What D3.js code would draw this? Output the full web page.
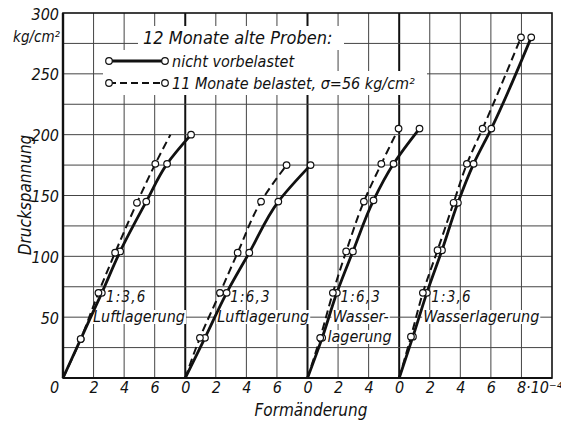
<!DOCTYPE html>
<html>
<head>
<meta charset="utf-8">
<script src="https://cdn.jsdelivr.net/npm/d3@7"></script>
<style>
  html, body { margin: 0; padding: 0; background: #fff; }
  svg { display: block; }
  text { font-family: "Liberation Sans Narrow", "DejaVu Sans Condensed", "Liberation Sans", sans-serif; font-style: italic; fill: #111; }
</style>
</head>
<body>
<script>
// Strain axis runs continuously over four sub-diagrams; each one restarts at 0.
const groupOffsets = [0, 8, 16, 22];

// Strain ticks (absolute position on the shared axis) and the printed labels
const xTickPositions = [0, 2, 4, 6, 8, 10, 12, 14, 16, 18, 20, 22, 24, 26, 28, 30];
const xTickLabels = ["0", "2", "4", "6", "0", "2", "4", "6", "0", "2", "4", "0", "2", "4", "6", "8·10⁻⁴"];
const yTickValues = [50, 100, 150, 200, 250, 300];

// Mixture / storage of each sub-diagram
const groupRatio = ["1:3,6", "1:6,3", "1:6,3", "1:3,6"];
const groupStorage = [["Luftlagerung"], ["Luftlagerung"], ["Wasser-", "lagerung"], ["Wasserlagerung"]];

// nicht vorbelastet (solid): strain [10⁻⁴] and stress [kg/cm²]
const solidStrain = [
  [0, 1.16, 2.54, 3.74, 5.45, 6.81, 8.38],
  [0, 1.29, 2.71, 4.19, 6.09, 8.20],
  [0, 0.96, 1.92, 2.97, 4.32, 5.63, 7.33],
  [0, 0.90, 1.81, 2.80, 3.84, 4.87, 6.03, 8.64]
];
const solidStress = [
  [0, 32, 70, 104, 145, 176, 200],
  [0, 33, 70, 103, 145, 175],
  [0, 33, 70, 104, 146, 176, 205],
  [0, 34, 70, 105, 144, 176, 205, 280]
];

// 11 Monate belastet (dashed)
const dashedStrain = [
  [0, 1.16, 2.32, 3.41, 4.84, 6.04, 7.03],
  [0, 0.96, 2.27, 3.43, 4.96, 6.63],
  [0, 0.83, 1.66, 2.53, 3.69, 4.83, 5.96],
  [0, 0.77, 1.55, 2.51, 3.56, 4.43, 5.46, 7.97]
];
const dashedStress = [
  [0, 32, 70, 103, 144, 176, 200],
  [0, 33, 70, 103, 145, 175],
  [0, 33, 70, 104, 145, 176, 205],
  [0, 34, 70, 105, 144, 176, 205, 280]
];
// the first dashed curve runs on past its last measured point
const dashedOpenEnd = [true, false, false, false];

const W = 561, H = 421;
const svg = d3.select("body").append("svg").attr("width", W).attr("height", H);

const x = d3.scaleLinear().domain([0, 32]).range([63, 552]);
const y = d3.scaleLinear().domain([0, 300]).range([378, 13]);

const ink = "#111";

// grid
const grid = svg.append("g");
grid.selectAll("line.v").data(d3.range(2, 32, 2)).join("line")
  .attr("x1", d => x(d)).attr("x2", d => x(d))
  .attr("y1", y(0)).attr("y2", y(300))
  .attr("stroke", d => groupOffsets.includes(d) ? ink : "#444")
  .attr("stroke-width", d => groupOffsets.includes(d) ? 2 : 1);
grid.selectAll("line.h").data(d3.range(25, 300, 25)).join("line")
  .attr("x1", x(0)).attr("x2", x(32))
  .attr("y1", d => y(d)).attr("y2", d => y(d))
  .attr("stroke", "#444").attr("stroke-width", 1);

// white patches behind legend rows
const mask = svg.append("g").attr("fill", "#fff");
mask.append("rect").attr("x", 138).attr("y", 26).attr("width", 206).attr("height", 24);
mask.append("rect").attr("x", 103).attr("y", 50).attr("width", 210).attr("height", 21);
mask.append("rect").attr("x", 103).attr("y", 71).attr("width", 324).attr("height", 24);

// frame
svg.append("rect").attr("x", x(0)).attr("y", y(300))
  .attr("width", x(32) - x(0)).attr("height", y(0) - y(300))
  .attr("fill", "none").attr("stroke", ink).attr("stroke-width", 1.6);
svg.append("line").attr("x1", x(0)).attr("x2", x(0)).attr("y1", y(0)).attr("y2", y(300))
  .attr("stroke", ink).attr("stroke-width", 2.4);
svg.append("line").attr("x1", x(0)).attr("x2", x(32)).attr("y1", y(0)).attr("y2", y(0))
  .attr("stroke", ink).attr("stroke-width", 2.2);

// axes
const xAxis = d3.axisBottom(x).tickValues(xTickPositions)
  .tickFormat((d, i) => xTickLabels[i]).tickSize(0).tickPadding(3);
const gx = svg.append("g").attr("transform", `translate(0,${y(0)})`).call(xAxis);
gx.select(".domain").remove();
gx.selectAll("text").attr("font-size", 16).attr("fill", ink)
  .attr("font-family", "'Liberation Sans Narrow', 'DejaVu Sans Condensed', sans-serif")
  .style("font-style", "italic")
  .attr("dy", "0.72em");
gx.selectAll(".tick").filter(d => d === 0).select("text").attr("dx", -9);
gx.selectAll(".tick").filter(d => d === 30).select("text")
  .attr("text-anchor", "start").attr("dx", -5);

const yAxis = d3.axisLeft(y).tickValues(yTickValues).tickSize(0).tickPadding(4);
const gy = svg.append("g").attr("transform", `translate(${x(0)},0)`).call(yAxis);
gy.select(".domain").remove();
gy.selectAll("text").attr("font-size", 16).attr("fill", ink)
  .attr("font-family", "'Liberation Sans Narrow', 'DejaVu Sans Condensed', sans-serif")
  .style("font-style", "italic")
  .attr("dy", "0.38em");

svg.append("text").attr("x", 60).attr("y", 42).attr("text-anchor", "end")
  .attr("font-size", 15).text("kg/cm²");
svg.append("text").attr("transform", "translate(31,195) rotate(-90)")
  .attr("text-anchor", "middle").attr("font-size", 17).text("Druckspannung");
svg.append("text").attr("x", 311).attr("y", 416).attr("text-anchor", "middle")
  .attr("font-size", 17).text("Formänderung");

// group annotations with white background
const notes = svg.append("g");
groupOffsets.forEach((off, i) => {
  const gxp = x(off);
  const lines = [groupRatio[i]].concat(groupStorage[i]);
  const dxs = [[43, 30], [45, 32], [33, 25, 20], [32, 24]][i];
  const ys = [302, 322, 342];
  lines.forEach((t, k) => {
    const txt = notes.append("text").attr("x", gxp + dxs[k]).attr("y", ys[k])
      .attr("font-size", k === 0 ? 15 : 16)
      .attr("letter-spacing", k === 0 ? 1.2 : 0)
      .text(t);
    if (k > 0) {
      const b = txt.node().getBBox();
      notes.insert("rect", "text").attr("x", b.x - 1).attr("y", b.y + 3)
        .attr("width", b.width + 2).attr("height", b.height - 5).attr("fill", "#fff");
    }
  });
});
notes.selectAll("text").raise();

// curves
const line = d3.line().x(d => x(d[0])).y(d => y(d[1])).curve(d3.curveMonotoneY);
const curves = svg.append("g");
const marks = svg.append("g");

function drawSeries(strain, stress, dashed, openEnd) {
  strain.forEach((xs, i) => {
    const pts = xs.map((v, k) => [v + groupOffsets[i], stress[i][k]]);
    curves.append("path").attr("d", line(pts)).attr("fill", "none")
      .attr("stroke", ink).attr("stroke-width", dashed ? 2 : 2.8)
      .attr("stroke-dasharray", dashed ? "8,4.5" : null)
      .attr("stroke-linecap", "butt");
    const shown = pts.slice(1, openEnd && openEnd[i] ? pts.length - 1 : pts.length);
    marks.selectAll(null).data(shown).join("circle")
      .attr("cx", d => x(d[0])).attr("cy", d => y(d[1])).attr("r", 3.3)
      .attr("fill", "#fff").attr("stroke", ink).attr("stroke-width", 1.2);
  });
}
drawSeries(solidStrain, solidStress, false, null);
drawSeries(dashedStrain, dashedStress, true, dashedOpenEnd);

// legend
const leg = svg.append("g");
leg.append("text").attr("x", 143).attr("y", 44).attr("font-size", 18).text("12 Monate alte Proben:");
[[61, false, "nicht vorbelastet"], [83, true, "11 Monate belastet, σ=56 kg/cm²"]].forEach(([ly, dashed, label]) => {
  leg.append("line").attr("x1", 109).attr("x2", 165).attr("y1", ly).attr("y2", ly)
    .attr("stroke", ink).attr("stroke-width", dashed ? 2 : 2.8)
    .attr("stroke-dasharray", dashed ? "7,4" : null);
  [109, 165].forEach(cx => leg.append("circle").attr("cx", cx).attr("cy", ly).attr("r", 3.3)
    .attr("fill", "#fff").attr("stroke", ink).attr("stroke-width", 1.2));
  leg.append("text").attr("x", 172).attr("y", ly + 6).attr("font-size", 16).text(label);
});
</script>
</body>
</html>
